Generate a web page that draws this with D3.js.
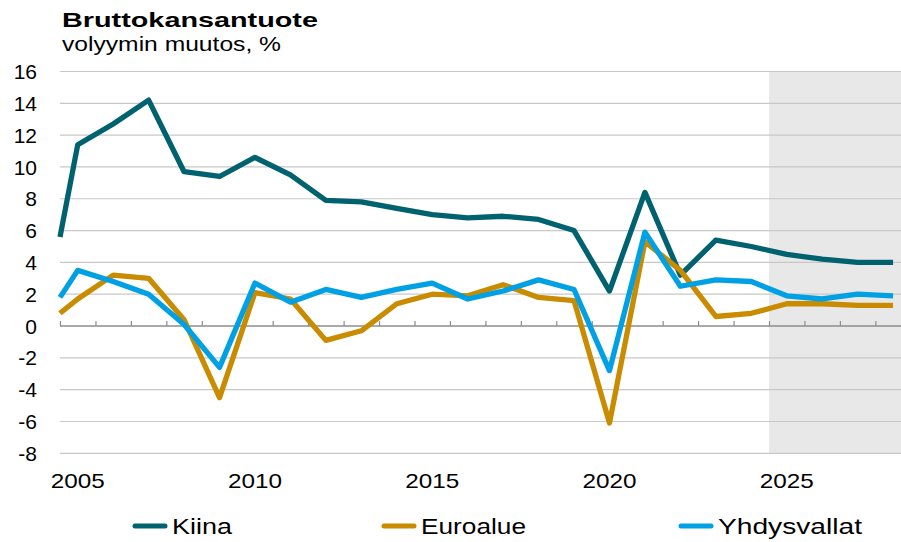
<!DOCTYPE html>
<html><head><meta charset="utf-8">
<script src="https://cdn.jsdelivr.net/npm/d3@7"></script>
<style>body{margin:0;background:#fff}svg{display:block;font-family:"Liberation Sans",Arial,sans-serif}</style>
</head><body>
<svg id="c" width="901" height="542"></svg>
<script>
const years = [2004.5,2005,2006,2007,2008,2009,2010,2011,2012,2013,2014,2015,2016,2017,2018,2019,2020,2021,2022,2023,2024,2025,2026,2027,2028];
const kiina = [5.6,11.4,12.7,14.2,9.7,9.4,10.6,9.5,7.9,7.8,7.4,7.0,6.8,6.9,6.7,6.0,2.2,8.4,3.2,5.4,5.0,4.5,4.2,4.0,4.0];
const euroalue = [0.8,1.7,3.2,3.0,0.4,-4.5,2.1,1.7,-0.9,-0.3,1.4,2.0,1.9,2.6,1.8,1.6,-6.1,5.3,3.5,0.6,0.8,1.4,1.4,1.3,1.3];
const yhdysvallat = [1.8,3.5,2.8,2.0,0.1,-2.6,2.7,1.5,2.3,1.8,2.3,2.7,1.7,2.2,2.9,2.3,-2.8,5.9,2.5,2.9,2.8,1.9,1.7,2.0,1.9];
const seriesNames = ["Kiina","Euroalue","Yhdysvallat"];
const seriesColors = ["#00626E","#C98B00","#00A1E4"];
const yTicks = [16,14,12,10,8,6,4,2,0,-2,-4,-6,-8];
const xLabels = [2005,2010,2015,2020,2025];
const forecastStart = 2024.5;

const svg = d3.select("#c");
const x = d3.scaleLinear().domain([2004.5, 2028.5]).range([60, 910.8]);
const y = d3.scaleLinear().domain([-8, 16]).range([453.3, 71.5]);

// forecast shading
svg.append("rect").attr("x", x(forecastStart)).attr("y", y(16))
  .attr("width", x(2028.5) - x(forecastStart)).attr("height", y(-8) - y(16))
  .attr("fill", "#E8E8E8");

// gridlines
svg.append("g").selectAll("line").data(yTicks.filter(d => d !== 0)).join("line")
  .attr("x1", x(2004.5)).attr("x2", 901).attr("y1", d => y(d)).attr("y2", d => y(d))
  .attr("stroke", "#C8C8C8").attr("stroke-width", 1.2);

// zero axis with ticks
const xAxis = d3.axisTop(x).tickValues(d3.range(2004.5, 2028.6, 1)).tickSize(5).tickFormat("");
const ax = svg.append("g").attr("transform", `translate(0,${y(0)})`).call(xAxis);
ax.select(".domain").attr("d", `M${x(2004.5)},0H901`).attr("stroke", "#8C8C8C").attr("stroke-width", 1.5);
ax.selectAll(".tick line").attr("stroke", "#8C8C8C").attr("stroke-width", 1.2);

// y labels
svg.append("g").selectAll("text").data(yTicks).join("text")
  .attr("x", 37).attr("y", d => y(d)).attr("dy", "0.36em")
  .attr("text-anchor", "end").attr("font-size", 21).attr("fill", "#000")
  .text(d => d);

// x labels
svg.append("g").selectAll("text").data(xLabels).join("text")
  .attr("x", d => x(d) - 27).attr("y", 488)
  .attr("font-size", 21).attr("fill", "#000")
  .attr("textLength", 54).attr("lengthAdjust", "spacingAndGlyphs")
  .text(d => d);

// lines
const data = [kiina, euroalue, yhdysvallat];
const line = d3.line().x((d, i) => x(years[i])).y(d => y(d));
svg.append("g").selectAll("path").data(data).join("path")
  .attr("d", line).attr("fill", "none")
  .attr("stroke", (d, i) => seriesColors[i]).attr("stroke-width", 5.3)
  .attr("stroke-linejoin", "round");

// title
svg.append("text").attr("x", 62).attr("y", 27).attr("font-size", 21).attr("font-weight", "bold")
  .attr("textLength", 256).attr("lengthAdjust", "spacingAndGlyphs").text("Bruttokansantuote");
svg.append("text").attr("x", 62).attr("y", 51).attr("font-size", 20)
  .attr("textLength", 219).attr("lengthAdjust", "spacingAndGlyphs").text("volyymin muutos, %");

// legend
const legX = [135, 384, 681];
const legW = [60, 105, 144];
const leg = svg.append("g").selectAll("g").data(seriesNames).join("g")
  .attr("transform", (d, i) => `translate(${legX[i]},526)`);
leg.append("line").attr("x1", 0).attr("x2", 30).attr("y1", 0).attr("y2", 0)
  .attr("stroke", (d, i) => seriesColors[i]).attr("stroke-width", 5).attr("stroke-linecap", "round");
leg.append("text").attr("x", 37).attr("dy", "0.36em").attr("font-size", 22)
  .attr("textLength", (d, i) => legW[i]).attr("lengthAdjust", "spacingAndGlyphs").text(d => d);
</script>
</body></html>
